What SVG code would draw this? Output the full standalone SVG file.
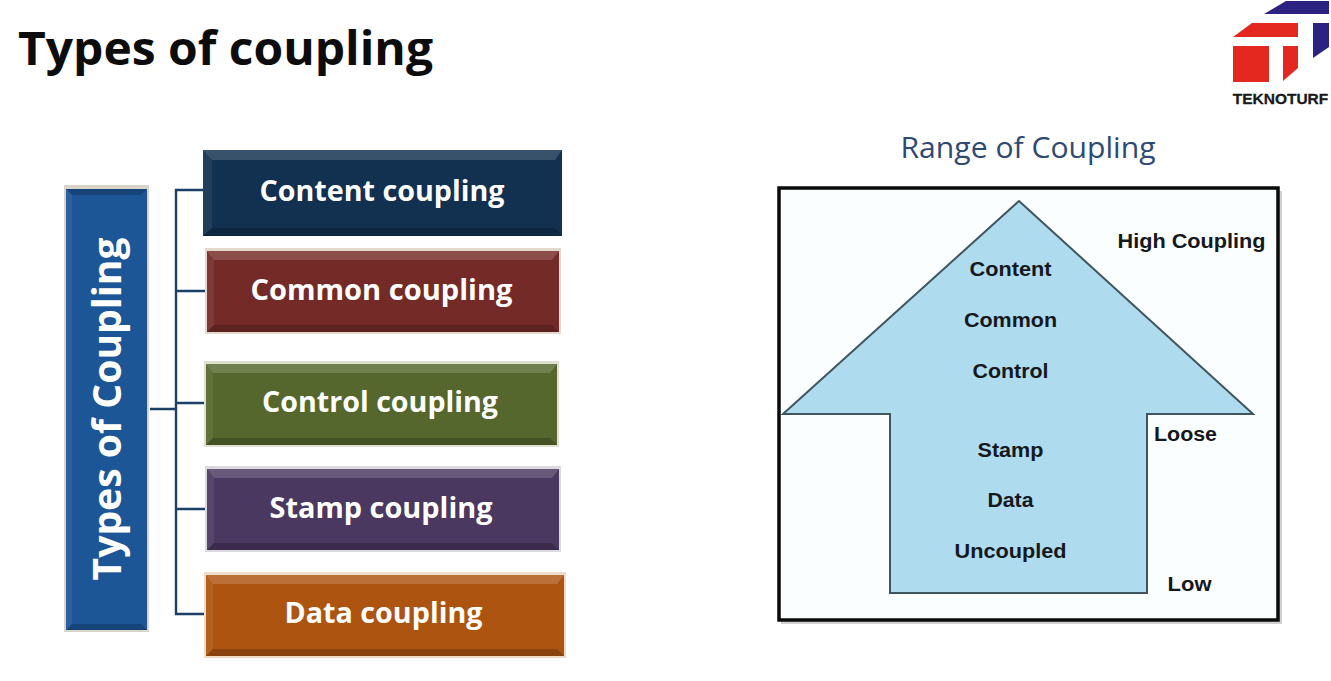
<svg xmlns="http://www.w3.org/2000/svg" width="1331" height="681" viewBox="0 0 1331 681">
<style>
.cal{font-family:"Open Sans","Noto Sans","Liberation Sans",sans-serif}
.box text{font-family:"Open Sans","Noto Sans","Liberation Sans",sans-serif;font-weight:700;font-size:29px;fill:#fff;text-anchor:middle}
.shine{fill:#fff;opacity:.17}
.side{fill:#fff;opacity:.07}
.shade{fill:#000;opacity:.2}
.lab{font-family:"Liberation Sans",Arial,sans-serif;font-weight:700;font-size:20px;fill:#15181c;text-anchor:middle}
.conn{fill:none;stroke:#1d3f66;stroke-width:2.4}
</style>
<rect width="1331" height="681" fill="#fff"/>
<text id="title" class="cal" x="18" y="65" font-size="47" font-weight="700" fill="#0c0c0c" textLength="415" lengthAdjust="spacingAndGlyphs">Types of coupling</text>

<g id="logo">
<polygon points="1264,14 1286,1 1329,1 1329,14" fill="#2c2281"/>
<polygon points="1313,23 1329,23 1329,47 1313,58" fill="#2c2281"/>
<polygon points="1233,37 1252,23 1298,23 1298,37" fill="#e5281f"/>
<rect x="1233" y="46" width="36" height="36" fill="#e5281f"/>
<polygon points="1283,46 1298,46 1298,68 1283,81" fill="#e5281f"/>
<text x="1280.500" y="104" font-family="'Liberation Sans',Arial,sans-serif" font-weight="700" font-size="15.500" fill="#1a1a1a" stroke="#1a1a1a" stroke-width=".3" text-anchor="middle">TEKNOTURF</text>
</g>

<g id="connectors">
<path class="conn" d="M150 409H176M204 190H176V614H205M176 291H206M176 403H206M176 509H206"/>
</g>

<g id="types-of-coupling" class="box">
<rect x="64" y="185" width="85" height="447" fill="#d9d4c8"/>
<rect x="66" y="189" width="81" height="441" fill="#1d5696"/>
<polygon class="shade" points="66,189 147,189 141,195 72,195"/>
<polygon class="side" points="66,189 72,195 72,624 66,630"/>
<polygon class="shade" points="66,630 147,630 141,624 72,624"/>
<text transform="translate(121,409) rotate(-90)" style="font-size:39px" textLength="343" lengthAdjust="spacingAndGlyphs">Types of Coupling</text>
</g>
<g id="content-coupling" class="box">
<rect x="203" y="150" width="359" height="86" fill="#12304f"/>
<polygon class="shine" points="203,150 562,150 555,160 212,160"/>
<polygon class="side" points="203,150 212,160 212,228 203,236"/>
<polygon class="shade" points="203,236 562,236 555,228 212,228"/>
<text x="382" y="201" textLength="245" lengthAdjust="spacingAndGlyphs">Content coupling</text>
</g>
<g id="common-coupling" class="box">
<rect x="205" y="248" width="356" height="86" fill="#e2d8cc"/>
<rect x="207" y="251" width="352" height="81" fill="#742b27"/>
<polygon class="shine" points="207,251 559,251 552,260 214,260"/>
<polygon class="side" points="207,251 214,260 214,325 207,332"/>
<polygon class="shade" points="207,332 559,332 552,325 214,325"/>
<text x="381.500" y="300" textLength="262" lengthAdjust="spacingAndGlyphs">Common coupling</text>
</g>
<g id="control-coupling" class="box">
<rect x="204" y="361" width="355" height="86" fill="#dfe0d2"/>
<rect x="206" y="364" width="351" height="81" fill="#55672c"/>
<polygon class="shine" points="206,364 557,364 550,373 213,373"/>
<polygon class="side" points="206,364 213,373 213,438 206,445"/>
<polygon class="shade" points="206,445 557,445 550,438 213,438"/>
<text x="380" y="412" textLength="236" lengthAdjust="spacingAndGlyphs">Control coupling</text>
</g>
<g id="stamp-coupling" class="box">
<rect x="205" y="466" width="356" height="86" fill="#dcd8e0"/>
<rect x="207" y="469" width="352" height="81" fill="#4a3860"/>
<polygon class="shine" points="207,469 559,469 552,478 214,478"/>
<polygon class="side" points="207,469 214,478 214,543 207,550"/>
<polygon class="shade" points="207,550 559,550 552,543 214,543"/>
<text x="381" y="518" textLength="223" lengthAdjust="spacingAndGlyphs">Stamp coupling</text>
</g>
<g id="data-coupling" class="box">
<rect x="204" y="572" width="362" height="86" fill="#efdcc8"/>
<rect x="206" y="575" width="358" height="81" fill="#ad5410"/>
<polygon class="shine" points="206,575 564,575 557,584 213,584"/>
<polygon class="side" points="206,575 213,584 213,649 206,656"/>
<polygon class="shade" points="206,656 564,656 557,649 213,649"/>
<text x="383.500" y="623" textLength="198" lengthAdjust="spacingAndGlyphs">Data coupling</text>
</g>

<text id="range-title" class="cal" x="1028" y="158" font-size="30" fill="#2e4a72" text-anchor="middle" textLength="255" lengthAdjust="spacingAndGlyphs">Range of Coupling</text>

<g id="range-diagram">
<rect x="781" y="191" width="501" height="433" fill="#000" opacity=".18"/>
<rect x="779" y="188" width="499" height="432" fill="#fbfeff" stroke="#0a0a0a" stroke-width="3.5"/>
<polygon points="1019,201 1253,414 1147,414 1147,593 890,593 890,414 783,414" fill="#aedcee" stroke="#3f5560" stroke-width="2"/>
<text class="lab" x="1010.500" y="276" textLength="82" lengthAdjust="spacingAndGlyphs">Content</text>
<text class="lab" x="1010.500" y="327" textLength="93" lengthAdjust="spacingAndGlyphs">Common</text>
<text class="lab" x="1010.500" y="378" textLength="76" lengthAdjust="spacingAndGlyphs">Control</text>
<text class="lab" x="1010.500" y="457" textLength="66" lengthAdjust="spacingAndGlyphs">Stamp</text>
<text class="lab" x="1010.500" y="507" textLength="46" lengthAdjust="spacingAndGlyphs">Data</text>
<text class="lab" x="1010.500" y="558" textLength="112" lengthAdjust="spacingAndGlyphs">Uncoupled</text>
<text class="lab" x="1191.500" y="248" textLength="148" lengthAdjust="spacingAndGlyphs">High Coupling</text>
<text class="lab" x="1185.500" y="441" textLength="63" lengthAdjust="spacingAndGlyphs">Loose</text>
<text class="lab" x="1189.500" y="591" textLength="44" lengthAdjust="spacingAndGlyphs">Low</text>
</g>
</svg>
